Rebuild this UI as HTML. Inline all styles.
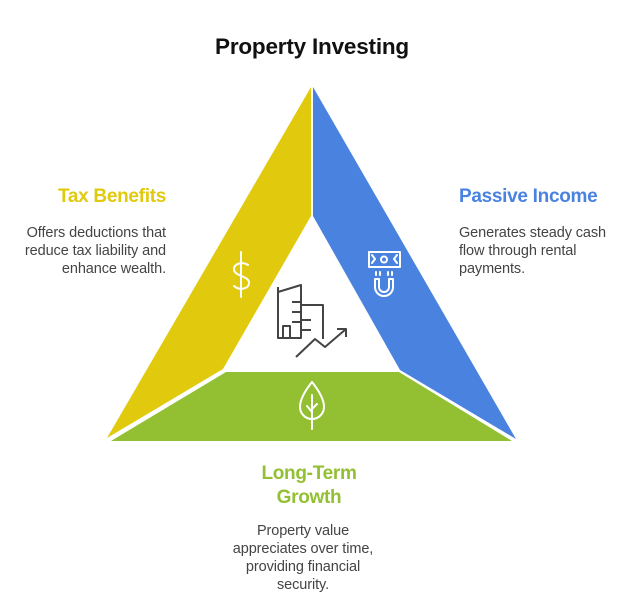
<!DOCTYPE html>
<html><head><meta charset="utf-8"><style>
body{margin:0;width:636px;height:605px;background:#fff;font-family:"Liberation Sans",sans-serif;position:relative;overflow:hidden}
.t{position:absolute;white-space:nowrap}
.h{font-weight:bold;font-size:19px;letter-spacing:-0.3px}
.b{font-size:14.5px;color:#444;line-height:18px;letter-spacing:-0.1px}
</style></head><body>
<div class="t" style="left:0;width:624px;text-align:center;top:34px;font-size:22.5px;font-weight:bold;color:#111;letter-spacing:-0.2px">Property Investing</div>
<div class="t h" style="right:470px;top:186px;color:#E1CA0E;text-align:right">Tax Benefits</div>
<div class="t b" style="right:470px;top:224px;text-align:right">Offers deductions that<br>reduce tax liability and<br>enhance wealth.</div>
<div class="t h" style="left:459px;top:186px;color:#4A82E0">Passive Income</div>
<div class="t b" style="left:459px;top:224px">Generates steady cash<br>flow through rental<br>payments.</div>
<div class="t h" style="left:209px;width:200px;text-align:center;top:462px;color:#93C032;line-height:24px">Long-Term<br>Growth</div>
<div class="t b" style="left:203px;width:200px;text-align:center;top:522px">Property value<br>appreciates over time,<br>providing financial<br>security.</div>
<svg width="636" height="605" style="position:absolute;left:0;top:0">
<polygon points="311,87 311,216 223,369 107,438" fill="#E1CA0E"/>
<polygon points="313,87 313,216 400,370 516,439" fill="#4A82E0"/>
<polygon points="226,372 399,372 512,441 111,441" fill="#93C032"/>
<g fill="none" stroke="#fff" stroke-width="2" stroke-linecap="round" stroke-linejoin="round">
<path d="M248,265 c-6,-4 -15,-1 -14,5 c1,6 14,6 15,12 c1,7 -10,9 -15,4 M241,252 v45"/>
<rect x="369" y="252" width="31" height="15"/><circle cx="384" cy="259.5" r="3"/><path d="M372,255 l3,4 l-3,4 M397,255 l-3,4 l3,4"/>
<path d="M376,272 v3 M380,272 v3 M388,272 v3 M392,272 v3 M375,279 v8 a9,9 0 0 0 18,0 v-8 h-4 v8 a5,5 0 0 1 -10,0 v-8 z"/>
<path d="M312,382 c-8,10 -12,18 -12,25 a12,12 0 0 0 24,0 c0,-7 -4,-15 -12,-25 z M312,395 v34 M312,412 l-5,-6 M312,409 l5,-5"/>
</g>
<g fill="none" stroke="#444" stroke-width="2" stroke-linejoin="round">
<path d="M278,338 v-46 l23,-7 v53 z M278,292 v-5 M283,338 v-12 h7 v12 M301,302 h-9 M301,312 h-9 M301,322 h-9 M301,305 h22 v34 M301,320 h10 M301,330 h10"/>
<path d="M296,357 l19,-18 l10,8 l21,-18 M337,329 h9 v8"/>
</g>
</svg>
</body></html>
